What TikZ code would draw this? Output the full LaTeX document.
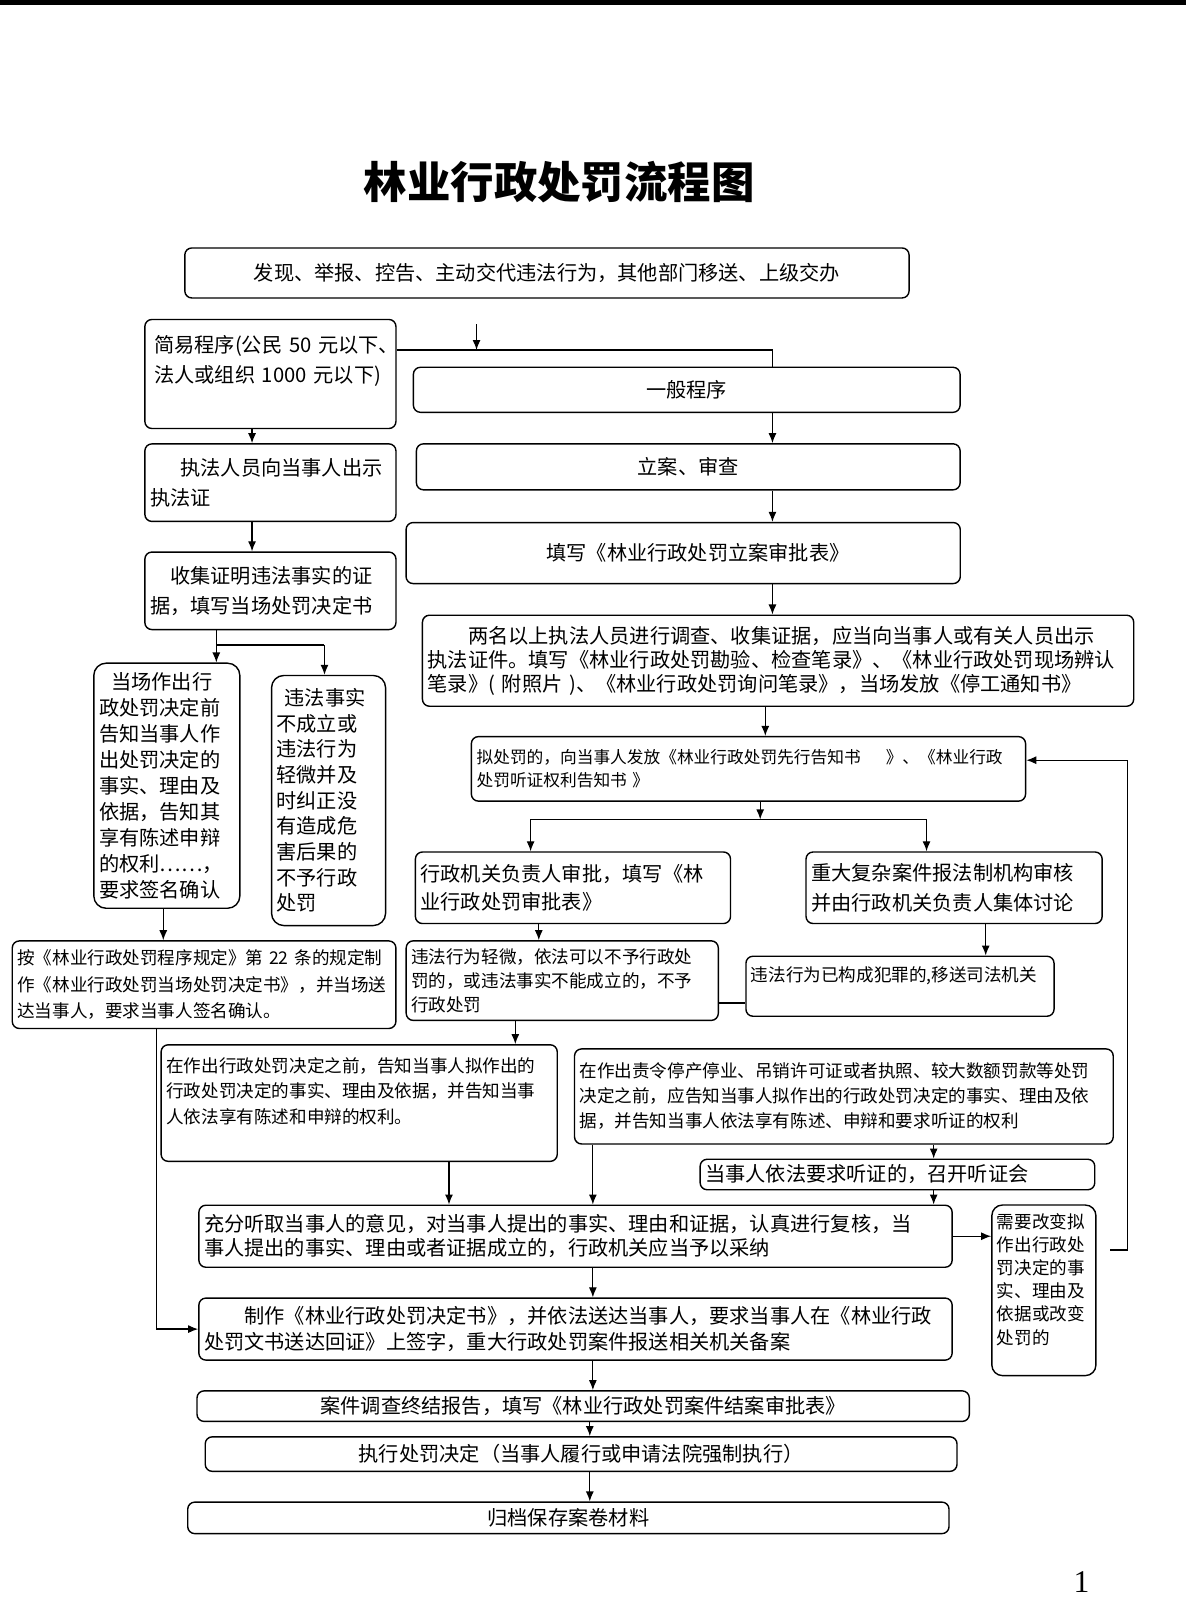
\documentclass[tikz,border=0pt]{standalone}
\usepackage{fontspec}
\setmainfont{Noto Sans CJK SC}
\newfontfamily\pagefont{Liberation Serif}
\usetikzlibrary{arrows, arrows.meta}
\newcommand\bigtxt{\fontsize{11.5}{14}\selectfont}
\newcommand\smalltxt{\fontsize{10}{13.6}\selectfont}
\tikzstyle{cbox} = [draw, rounded corners=4pt, line width=0.8pt, inner sep=0pt, align=center, font=\bigtxt]
\tikzstyle{lbox} = [draw, rounded corners=4pt, line width=0.8pt, inner xsep=0.1cm, inner ysep=0pt, align=left, font=\bigtxt]

\begin{document}
\begin{tikzpicture}[x=0.0204cm,y=-0.0204cm,>={Latex[length=2mm,width=1.6mm]},line width=0.7pt]
      \useasboundingbox (0,0) rectangle (1162,1568);
      \fill (0,0) rectangle (1162,5);
      \node [font=\bfseries\fontsize{24.7}{28}\selectfont] (title) at (548,178) {林业行政处罚流程图};
      \node [cbox, minimum width=14.48cm, minimum height=1.0cm] (report) at (536,267.5) {发现、举报、控告、主动交代违法行为，其他部门移送、上级交办};
      % simple procedure, left column
      \node [lbox, minimum width=5.02cm, minimum height=2.18cm, text width=4.81cm, font=\fontsize{11.5}{16.8}\selectfont] (simple) at (265,366.5) {\hspace*{0.2em}简易程序(公民~50~元以下、\\\hspace*{0.2em}法人或组织~1000~元以下)\\\mbox{}};
      \node [lbox, minimum width=5.02cm, minimum height=1.55cm, text width=4.81cm, font=\fontsize{11.5}{17.4}\selectfont] (showid) at (265,473) {\hspace*{1.5em}执法人员向当事人出示\\执法证};
      \node [lbox, minimum width=5.02cm, minimum height=1.55cm, text width=4.81cm, font=\fontsize{11.5}{17.4}\selectfont] (evidence) at (265,579) {\hspace*{1em}收集证明违法事实的证\\据，填写当场处罚决定书};
      \node [lbox, minimum width=2.92cm, minimum height=4.90cm, text width=2.71cm, rounded corners=7pt, font=\fontsize{11.5}{14.8}\selectfont] (inform) at (163.5,770) {\hspace*{0.6em}当场作出行\\政处罚决定前\\告知当事人作\\出处罚决定的\\事实、理由及\\依据，告知其\\享有陈述申辩\\的权利……，\\要求签名确认};
      \node [lbox, minimum width=2.28cm, minimum height=5.0cm, text width=2.08cm, rounded corners=7pt, font=\fontsize{11.5}{14.6}\selectfont] (nopunish) at (322,784.5) {\hspace*{0.4em}违法事实\\不成立或\\违法行为\\轻微并及\\时纠正没\\有造成危\\害后果的\\不予行政\\处罚};
      \node [lbox, minimum width=7.67cm, minimum height=1.75cm, text width=7.47cm, font=\fontsize{10}{15}\selectfont] (onsite) at (200,965) {按《林业行政处罚程序规定》第~22~条的规定制\\作《林业行政处罚当场处罚决定书》，并当场送\\达当事人，要求当事人签名确认。};
      % general procedure, right column
      \node [cbox, minimum width=10.93cm, minimum height=0.90cm] (general) at (673,382) {一般程序};
      \node [cbox, minimum width=10.87cm, minimum height=0.92cm] (filing) at (674.5,457.5) {立案、审查};
      \node [lbox, minimum width=11.08cm, minimum height=1.22cm, text width=10.87cm] (filetab) at (669.5,542) {\hspace*{2.7cm}填写《林业行政处罚立案审批表》};
      \node [lbox, minimum width=14.22cm, minimum height=1.82cm, text width=14.01cm, font=\fontsize{11.5}{13.6}\selectfont] (investigate) at (762.5,647.5) {\hspace*{2em}两名以上执法人员进行调查、收集证据，应当向当事人或有关人员出示\\执法证件。填写《林业行政处罚勘验、检查笔录》、《林业行政处罚现场辨认\\笔录》(~附照片~)、《林业行政处罚询问笔录》，当场发放《停工通知书》};
      \node [lbox, minimum width=11.08cm, minimum height=1.29cm, text width=10.87cm, font=\fontsize{9.5}{13.3}\selectfont] (notify) at (733.5,753.5) {拟处罚的，向当事人发放《林业行政处罚先行告知书\hspace{1.5em}》、《林业行政\\处罚听证权利告知书~》};
      \node [lbox, minimum width=6.30cm, minimum height=1.43cm, text width=6.10cm, font=\fontsize{11.5}{15.6}\selectfont] (approval) at (561.5,870) {行政机关负责人审批，填写《林\\业行政处罚审批表》};
      \node [lbox, minimum width=5.92cm, minimum height=1.43cm, text width=5.71cm, font=\fontsize{11.5}{17.4}\selectfont] (discuss) at (935,870) {重大复杂案件报法制机构审核\\并由行政机关负责人集体讨论};
      \node [lbox, minimum width=6.24cm, minimum height=1.59cm, text width=6.04cm, font=\fontsize{10}{13.6}\selectfont] (nopenalty) at (551,961) {违法行为轻微，依法可以不予行政处\\罚的，或违法事实不能成立的，不予\\行政处罚};
      \node [lbox, minimum width=6.16cm, minimum height=1.20cm, text width=5.96cm, font=\smalltxt] (transfer) at (882,966.5) {违法行为已构成犯罪的,移送司法机关\\\mbox{}};
      \node [lbox, minimum width=7.92cm, minimum height=2.33cm, text width=7.71cm, font=\fontsize{10}{14.5}\selectfont] (preinform) at (352,1081) {在作出行政处罚决定之前，告知当事人拟作出的\\行政处罚决定的事实、理由及依据，并告知当事\\人依法享有陈述和申辩的权利。\\\mbox{}};
      \node [lbox, minimum width=10.77cm, minimum height=1.90cm, text width=10.57cm, font=\fontsize{10}{14.2}\selectfont] (hearinform) at (827,1074.5) {在作出责令停产停业、吊销许可证或者执照、较大数额罚款等处罚\\决定之前，应告知当事人拟作出的行政处罚决定的事实、理由及依\\据，并告知当事人依法享有陈述、申辩和要求听证的权利};
      \node [lbox, minimum width=7.89cm, minimum height=0.61cm, text width=7.69cm] (hearing) at (879.5,1151) {当事人依法要求听证的，召开听证会};
      \node [lbox, minimum width=15.06cm, minimum height=1.24cm, text width=14.85cm, font=\fontsize{11.5}{13.6}\selectfont] (review) at (564,1211.5) {充分听取当事人的意见，对当事人提出的事实、理由和证据，认真进行复核，当\\事人提出的事实、理由或者证据成立的，行政机关应当予以采纳};
      \node [lbox, minimum width=2.08cm, minimum height=3.41cm, text width=1.88cm, rounded corners=6pt, font=\fontsize{10}{13.2}\selectfont] (change) at (1023,1264.5) {需要改变拟\\作出行政处\\罚决定的事\\实、理由及\\依据或改变\\处罚的\\\mbox{}};
      \node [lbox, minimum width=15.06cm, minimum height=1.24cm, text width=14.85cm, font=\fontsize{11.5}{14.5}\selectfont] (decision) at (564,1302.5) {\hspace*{2em}制作《林业行政处罚决定书》，并依法送达当事人，要求当事人在《林业行政\\处罚文书送达回证》上签字，重大行政处罚案件报送相关机关备案};
      \node [cbox, minimum width=15.44cm, minimum height=0.61cm] (closing) at (571.5,1378) {案件调查终结报告，填写《林业行政处罚案件结案审批表》};
      \node [cbox, minimum width=15.03cm, minimum height=0.69cm] (execute) at (569.5,1425) {执行处罚决定（当事人履行或申请法院强制执行）};
      \node [cbox, minimum width=15.22cm, minimum height=0.63cm] (archive) at (557,1487.5) {归档保存案卷材料};
      \node [font=\pagefont\fontsize{18}{20}\selectfont] (page) at (1060,1550) {1};
      % junctions and columns
      \coordinate (entry) at (467,318);
      \coordinate (split1) at (757,343);
      \coordinate (colF) at (750,0);
      \coordinate (split3) at (745,803);
      \coordinate (splitL) at (520,803);
      \coordinate (splitR) at (908,803);
      \coordinate (colH) at (528,0);
      \coordinate (colI) at (966,0);
      \coordinate (rowJ) at (0,983);
      \coordinate (colB) at (247,0);
      \coordinate (splitM) at (212,632);
      \coordinate (splitO) at (318,632);
      \coordinate (colN) at (160,0);
      \coordinate (colP) at (153,0);
      \coordinate (colJ) at (505,0);
      \coordinate (colT) at (915,0);
      \coordinate (colQ) at (440,0);
      \coordinate (colU) at (581,0);
      \coordinate (colW) at (578,0);
      \coordinate (back1) at (1088,1225);
      \coordinate (back2) at (1105,1225);
      \coordinate (rowG) at (0,745);
      % connectors
      \draw[->] (entry) -- (entry |- split1);
      \draw (simple.east |- split1) -- (split1) -- (general.north -| split1);
      \draw[->] (general.south -| split1) -- (filing.north -| split1);
      \draw[->] (filing.south -| split1) -- (filetab.north -| split1);
      \draw[->] (filetab.south -| split1) -- (investigate.north -| split1);
      \draw[->] (investigate.south -| colF) -- (notify.north -| colF);
      \draw[->] (notify.south -| split3) -- (split3);
      \draw (splitL) -- (splitR);
      \draw[->] (splitL) -- (approval.north -| splitL);
      \draw[->] (splitR) -- (discuss.north -| splitR);
      \draw[->] (approval.south -| colH) -- (nopenalty.north -| colH);
      \draw[->] (discuss.south -| colI) -- (transfer.north -| colI);
      \draw (nopenalty.east |- rowJ) -- (transfer.west |- rowJ);
      \draw[->] (simple.south -| colB) -- (showid.north -| colB);
      \draw[->] (showid.south -| colB) -- (evidence.north -| colB);
      \draw (evidence.south -| splitM) -- (splitM) -- (splitO);
      \draw[->] (splitM) -- (inform.north -| splitM);
      \draw[->] (splitO) -- (nopunish.north -| splitO);
      \draw[->] (inform.south -| colN) -- (onsite.north -| colN);
      \draw[->] (onsite.south -| colP) |- (decision.west);
      \draw[->] (nopenalty.south -| colJ) -- (preinform.north -| colJ);
      \draw[->] (hearinform.south -| colT) -- (hearing.north -| colT);
      \draw[->] (hearing.south -| colT) -- (review.north -| colT);
      \draw[->] (preinform.south -| colQ) -- (review.north -| colQ);
      \draw[->] (hearinform.south -| colU) -- (review.north -| colU);
      \draw[->] (review.east) -- (change.west |- review.east);
      \draw[->] (back1) -- (back2) |- (notify.east |- rowG);
      \draw[->] (review.south -| colU) -- (decision.north -| colU);
      \draw[->] (decision.south -| colU) -- (closing.north -| colU);
      \draw[->] (closing.south -| colW) -- (execute.north -| colW);
      \draw[->] (execute.south -| colW) -- (archive.north -| colW);
  \end{tikzpicture}
\end{document}
